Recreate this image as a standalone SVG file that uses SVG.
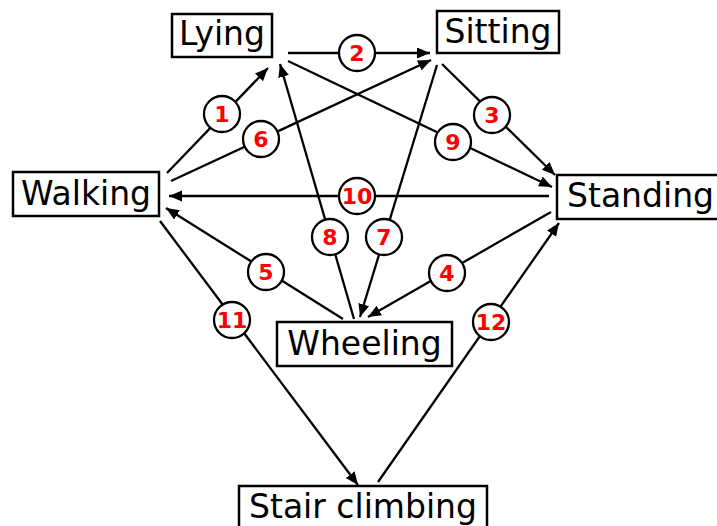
<svg xmlns="http://www.w3.org/2000/svg" width="717" height="526" viewBox="0 0 717 526">
<defs>
<style>
.box{fill:#fff;stroke:#000;stroke-width:2.5}
.lbl{font-family:"DejaVu Sans",sans-serif;font-size:33px;fill:#000}
.e{stroke:#000;stroke-width:2.3;fill:none}
.c{fill:#fff;stroke:#000;stroke-width:2.3}
.n{font-family:"DejaVu Sans",sans-serif;font-size:22px;font-weight:bold;fill:#ff0000;text-anchor:middle}
</style>
<marker id="ah" markerUnits="userSpaceOnUse" markerWidth="14" markerHeight="12" refX="13" refY="5.5" orient="auto">
<path d="M0,0 L13,5.5 L0,11 z" fill="#000"/>
</marker>
</defs>
<rect width="717" height="526" fill="#fff"/>
<g id="connectors">
<line class="e" x1="167" y1="173" x2="268" y2="68" marker-end="url(#ah)"/>
<line class="e" x1="288" y1="53" x2="430" y2="53" marker-end="url(#ah)"/>
<line class="e" x1="442" y1="64" x2="555" y2="175" marker-end="url(#ah)"/>
<line class="e" x1="288" y1="61" x2="552" y2="187" marker-end="url(#ah)"/>
<line class="e" x1="171" y1="181" x2="431" y2="60" marker-end="url(#ah)"/>
<line class="e" x1="549" y1="196" x2="169" y2="196" marker-end="url(#ah)"/>
<line class="e" x1="354" y1="319" x2="280" y2="64" marker-end="url(#ah)"/>
<line class="e" x1="437" y1="65" x2="360" y2="317" marker-end="url(#ah)"/>
<line class="e" x1="343" y1="319" x2="166" y2="208" marker-end="url(#ah)"/>
<line class="e" x1="551" y1="212" x2="368" y2="317" marker-end="url(#ah)"/>
<line class="e" x1="160" y1="221" x2="358" y2="485" marker-end="url(#ah)"/>
<line class="e" x1="378" y1="482" x2="559" y2="223" marker-end="url(#ah)"/>
<g id="labels">
<circle class="c" cx="222" cy="114" r="18"/><text class="n" x="222" y="122">1</text>
<circle class="c" cx="357" cy="53" r="18"/><text class="n" x="357" y="61">2</text>
<circle class="c" cx="492" cy="115" r="18"/><text class="n" x="492" y="123">3</text>
<circle class="c" cx="447" cy="273" r="18"/><text class="n" x="447" y="281">4</text>
<circle class="c" cx="266" cy="272" r="18"/><text class="n" x="266" y="280">5</text>
<circle class="c" cx="261" cy="139" r="18"/><text class="n" x="261" y="147">6</text>
<circle class="c" cx="384" cy="237" r="18"/><text class="n" x="384" y="245">7</text>
<circle class="c" cx="330" cy="237" r="18"/><text class="n" x="330" y="245">8</text>
<circle class="c" cx="453" cy="142" r="18"/><text class="n" x="453" y="150">9</text>
<circle class="c" cx="357" cy="196" r="18"/><text class="n" x="357" y="204">10</text>
<circle class="c" cx="232" cy="320" r="18"/><text class="n" x="232" y="328">11</text>
<circle class="c" cx="491" cy="322" r="18"/><text class="n" x="491" y="330">12</text>
</g>
</g>
<g id="lying"><rect class="box" x="172" y="14" width="100" height="43"/><text class="lbl" x="222" y="44.5" text-anchor="middle">Lying</text></g>
<g id="sitting"><rect class="box" x="437" y="11" width="122" height="42"/><text class="lbl" x="498" y="42.5" text-anchor="middle">Sitting</text></g>
<g id="walking"><rect class="box" x="13" y="172" width="146" height="44"/><text class="lbl" x="86" y="205" text-anchor="middle">Walking</text></g>
<g id="standing"><rect class="box" x="557" y="175" width="170" height="44"/><text class="lbl" x="567" y="207">Standing</text></g>
<g id="wheeling"><rect class="box" x="277" y="322" width="175" height="44"/><text class="lbl" x="364.5" y="355" text-anchor="middle">Wheeling</text></g>
<g id="stair"><rect class="box" x="239" y="486" width="248" height="44"/><text class="lbl" x="363" y="518" text-anchor="middle">Stair climbing</text></g>
</svg>
